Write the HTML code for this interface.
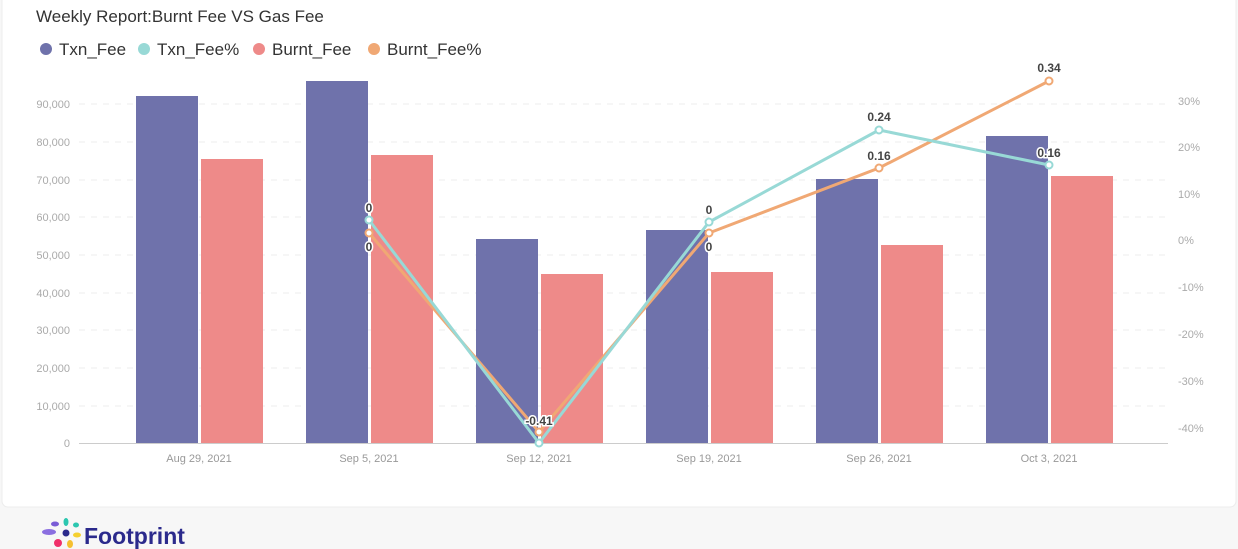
<!DOCTYPE html>
<html><head><meta charset="utf-8"><style>
body{margin:0;background:#f7f7f7;width:1238px;height:549px;overflow:hidden;font-family:"Liberation Sans",sans-serif}
</style></head><body>
<svg width="1238" height="549" xmlns="http://www.w3.org/2000/svg" style="position:absolute;left:0;top:0">
<rect x="0" y="0" width="1238" height="549" fill="#f7f7f7"/>
<rect x="2" y="-10" width="1234" height="517" rx="6" fill="#fff" stroke="#ececec"/>
<text x="36" y="22" font-size="17" fill="#333">Weekly Report:Burnt Fee VS Gas Fee</text>
<g font-size="17" fill="#333">
<circle cx="46" cy="49" r="6" fill="#6f72ab"/><text x="59" y="55">Txn_Fee</text>
<circle cx="144" cy="49" r="6" fill="#98d9d6"/><text x="157" y="55">Txn_Fee%</text>
<circle cx="259" cy="49" r="6" fill="#ee8a89"/><text x="272" y="55">Burnt_Fee</text>
<circle cx="374" cy="49" r="6" fill="#f0a874"/><text x="387" y="55">Burnt_Fee%</text>
</g>
<g stroke="#eee" stroke-dasharray="6,6">
<line x1="79" x2="1168" y1="104" y2="104"/><line x1="79" x2="1168" y1="142" y2="142"/><line x1="79" x2="1168" y1="180" y2="180"/><line x1="79" x2="1168" y1="217" y2="217"/><line x1="79" x2="1168" y1="255" y2="255"/><line x1="79" x2="1168" y1="293" y2="293"/><line x1="79" x2="1168" y1="330" y2="330"/><line x1="79" x2="1168" y1="368" y2="368"/><line x1="79" x2="1168" y1="406" y2="406"/>
</g>
<g font-size="11" fill="#aaa" text-anchor="end">
<text x="70" y="108">90,000</text><text x="70" y="146">80,000</text><text x="70" y="184">70,000</text><text x="70" y="221">60,000</text><text x="70" y="259">50,000</text><text x="70" y="297">40,000</text><text x="70" y="334">30,000</text><text x="70" y="372">20,000</text><text x="70" y="410">10,000</text><text x="70" y="447">0</text>
</g>
<g font-size="11" fill="#aaa">
<text x="1178" y="105">30%</text><text x="1178" y="151">20%</text><text x="1178" y="198">10%</text><text x="1178" y="244">0%</text><text x="1178" y="291">-10%</text><text x="1178" y="338">-20%</text><text x="1178" y="385">-30%</text><text x="1178" y="432">-40%</text>
</g>
<g fill="#6f72ab">
<rect x="136" y="96" width="62" height="347"/><rect x="306" y="81" width="62" height="362"/><rect x="476" y="239" width="62" height="204"/><rect x="646" y="230" width="62" height="213"/><rect x="816" y="179" width="62" height="264"/><rect x="986" y="136" width="62" height="307"/>
</g>
<g fill="#ee8a89">
<rect x="201" y="159" width="62" height="284"/><rect x="371" y="155" width="62" height="288"/><rect x="541" y="274" width="62" height="169"/><rect x="711" y="272" width="62" height="171"/><rect x="881" y="245" width="62" height="198"/><rect x="1051" y="176" width="62" height="267"/>
</g>
<line x1="79" x2="1168" y1="443.5" y2="443.5" stroke="#ccc"/>
<g font-size="11" fill="#999" text-anchor="middle">
<text x="199" y="462">Aug 29, 2021</text><text x="369" y="462">Sep 5, 2021</text><text x="539" y="462">Sep 12, 2021</text><text x="709" y="462">Sep 19, 2021</text><text x="879" y="462">Sep 26, 2021</text><text x="1049" y="462">Oct 3, 2021</text>
</g>
<polyline points="369,233 539,432 709,233 879,168 1049,81" fill="none" stroke="#f0a874" stroke-width="3"/>
<polyline points="369,220 539,443 709,222 879,130 1049,165" fill="none" stroke="#98d9d6" stroke-width="3"/>
<g fill="#fff" stroke-width="2">
<circle cx="369" cy="233" r="3.5" stroke="#f0a874"/><circle cx="539" cy="432" r="3.5" stroke="#f0a874"/><circle cx="709" cy="233" r="3.5" stroke="#f0a874"/><circle cx="879" cy="168" r="3.5" stroke="#f0a874"/><circle cx="1049" cy="81" r="3.5" stroke="#f0a874"/>
<circle cx="369" cy="220" r="3.5" stroke="#98d9d6"/><circle cx="539" cy="443" r="3.5" stroke="#98d9d6"/><circle cx="709" cy="222" r="3.5" stroke="#98d9d6"/><circle cx="879" cy="130" r="3.5" stroke="#98d9d6"/><circle cx="1049" cy="165" r="3.5" stroke="#98d9d6"/>
</g>
<g font-size="12" font-weight="bold" fill="#444" text-anchor="middle" stroke="#fff" stroke-width="3" paint-order="stroke">
<text x="369" y="212">0</text><text x="369" y="251">0</text><text x="539" y="425">-0.41</text><text x="709" y="214">0</text><text x="709" y="251">0</text><text x="879" y="121">0.24</text><text x="879" y="160">0.16</text><text x="1049" y="157">0.16</text><text x="1049" y="72">0.34</text>
</g>
<g>
<circle cx="66" cy="533" r="3.5" fill="#2b2a8c"/>
<ellipse cx="49" cy="532" rx="7" ry="3" fill="#8b6fe0"/>
<ellipse cx="55" cy="524" rx="4" ry="2.5" fill="#7a5cd6"/>
<ellipse cx="66" cy="522" rx="2.5" ry="4" fill="#2cc7b0"/>
<ellipse cx="76" cy="525" rx="3" ry="2.5" fill="#2cc7b0"/>
<ellipse cx="77" cy="535" rx="4" ry="2.5" fill="#f5d030"/>
<ellipse cx="70" cy="544" rx="3" ry="4" fill="#f5c030"/>
<ellipse cx="58" cy="543" rx="4" ry="4" fill="#f0306a"/>
<text x="84" y="544" font-size="23" font-weight="bold" fill="#2b2a8c">Footprint</text>
</g>
</svg>
</body></html>
